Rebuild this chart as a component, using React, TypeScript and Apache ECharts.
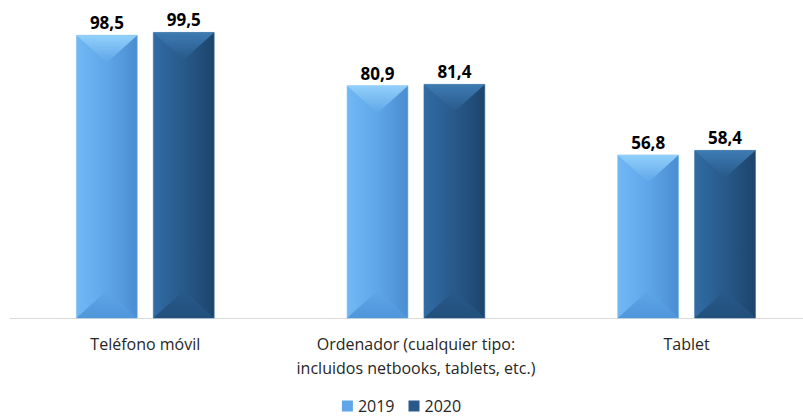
import React, { useEffect, useRef } from "react";
import * as echarts from "echarts";

const categories = [
  "Teléfono móvil",
  "Ordenador (cualquier tipo:\nincluidos netbooks, tablets, etc.)",
  "Tablet",
];
const seriesNames = ["2019", "2020"];
const values2019 = [98.5, 80.9, 56.8];
const values2020 = [99.5, 81.4, 58.4];
const categoryPositions = [0, 1, 2];

const palettes = [
  { main: "#5ea6e8", left: "#70b8f5", right: "#4a8dd0", top: "#92d0fb", bottom: "#5096da", edge: "#7fbff0" },
  { main: "#28598a", left: "#306ca4", right: "#1d446c", top: "#3d7bb3", bottom: "#22507d", edge: "#3a72a6" },
];

const FONT = "'Open Sans', 'Noto Sans', sans-serif";

function makeRender(seriesIdx: number) {
  const p = palettes[seriesIdx];
  const sign = seriesIdx === 0 ? -1 : 1;
  return (params: any, api: any) => {
    const idx = api.value(0);
    const val = api.value(1);
    const base = api.coord([idx, 0]);
    const top = api.coord([idx, val]);
    const band = api.size([1, 0])[0];
    const w = band * 0.225;
    const gap = band * 0.059;
    const cx = base[0] + sign * (w / 2 + gap / 2);
    const l = cx - w / 2;
    const r = cx + w / 2;
    const yT = top[1];
    const yB = base[1];
    const d = w * 0.45;
    const label = val.toFixed(1).replace(".", ",");
    return {
      type: "group",
      children: [
        {
          type: "rect",
          shape: { x: l, y: yT, width: w, height: yB - yT },
          style: {
            fill: new echarts.graphic.LinearGradient(0, 0, 1, 0, [
              { offset: 0, color: p.left },
              { offset: 0.5, color: p.main },
              { offset: 1, color: p.right },
            ]),
            stroke: p.edge,
            lineWidth: 0.6,
          },
        },
        {
          type: "polygon",
          shape: { points: [[l, yT], [r, yT], [cx, yT + d]] },
          style: {
            fill: new echarts.graphic.LinearGradient(0, 0, 0, 1, [
              { offset: 0, color: p.top },
              { offset: 1, color: p.main },
            ]),
          },
        },
        {
          type: "polygon",
          shape: { points: [[l, yB], [r, yB], [cx, yB - d]] },
          style: {
            fill: new echarts.graphic.LinearGradient(0, 1, 0, 0, [
              { offset: 0, color: p.bottom },
              { offset: 1, color: p.main },
            ]),
          },
        },
        {
          type: "text",
          style: {
            text: label,
            x: cx,
            y: yT - 4,
            align: "center",
            verticalAlign: "bottom",
            fontFamily: FONT,
            fontWeight: "bold",
            fontSize: 17,
            fill: "#000000",
          },
        },
      ],
    };
  };
}

export default function App() {
  const ref = useRef<HTMLDivElement>(null);
  useEffect(() => {
    if (!ref.current) return;
    const chart = echarts.init(ref.current, undefined, { renderer: "svg" });
    const allValues = [values2019, values2020];
    chart.setOption({
      animation: false,
      backgroundColor: "#ffffff",
      grid: { left: 10, top: 31, right: 0, bottom: 98, containLabel: false },
      legend: {
        top: 398,
        left: "center",
        padding: 0,
        itemWidth: 11,
        itemHeight: 11,
        itemGap: 14,
        icon: "rect",
        textStyle: {
          fontFamily: FONT,
          fontSize: 16,
          lineHeight: 16,
          color: "#262626",
          padding: [0, 0, 0, 0],
        },
        data: seriesNames,
      },
      xAxis: {
        type: "value",
        min: -0.5,
        max: 2.43,
        splitLine: { show: false },
        axisLine: { show: true, onZero: false, lineStyle: { color: "#d9d9d9", width: 1 } },
        axisTick: { show: false },
        axisLabel: {
          customValues: categoryPositions,
          formatter: (v: number) => categories[Math.round(v)] ?? "",
          margin: 14,
          fontFamily: FONT,
          fontSize: 16,
          lineHeight: 24,
          color: "#262626",
        },
      },
      yAxis: {
        type: "value",
        min: 0,
        max: 100,
        show: false,
        splitLine: { show: false },
      },
      series: seriesNames.map((name, si) => ({
        type: "custom",
        name,
        itemStyle: { color: palettes[si].main },
        renderItem: makeRender(si),
        encode: { x: 0, y: 1 },
        clip: false,
        data: allValues[si].map((v, i) => [categoryPositions[i], v]),
      })),
    });
    return () => chart.dispose();
  }, []);
  return (
    <div
      ref={ref}
      style={{ position: "fixed", left: 0, top: 0, width: 803, height: 416 }}
    />
  );
}
